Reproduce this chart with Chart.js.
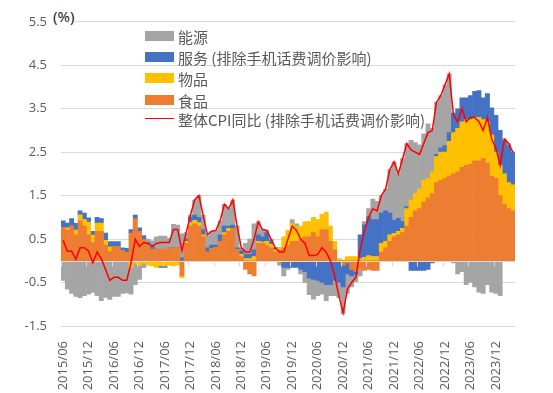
<!DOCTYPE html>
<html><head><meta charset="utf-8">
<script src="https://cdn.jsdelivr.net/npm/chart.js@4.4.1/dist/chart.umd.min.js"></script>
<style>
html,body{margin:0;padding:0;background:#fff;}
#wrap{position:relative;width:553px;height:393px;overflow:hidden;}
#c{position:absolute;left:0;top:0;}
.unit{position:absolute;left:52px;top:6px;font:15px "Noto Sans","Noto Sans CJK SC";color:#262626;background:#fff;padding:0 1px;line-height:20px;}
.lgrow{position:absolute;left:145px;height:20px;}
.lgbox{position:absolute;left:0;width:29px;height:10px;top:5px;}
.lgline{position:absolute;left:0;width:29px;height:0;top:9px;border-top:1.5px solid #FF0000;}
.lgtxt{position:absolute;left:33px;top:0;line-height:20px;font:15px "Noto Sans CJK SC";color:#595959;white-space:nowrap;}
</style></head>
<body>
<div id="wrap">
<canvas id="c" width="553" height="393"></canvas>
<div class="unit">(%)</div>
<div id="legend"></div>
</div>
<script>
// ---- categories (monthly, 2015/06 - 2024/04) ----
const categories = [
"2015/06","2015/07","2015/08","2015/09","2015/10","2015/11","2015/12",
"2016/01","2016/02","2016/03","2016/04","2016/05","2016/06","2016/07","2016/08","2016/09","2016/10","2016/11","2016/12",
"2017/01","2017/02","2017/03","2017/04","2017/05","2017/06","2017/07","2017/08","2017/09","2017/10","2017/11","2017/12",
"2018/01","2018/02","2018/03","2018/04","2018/05","2018/06","2018/07","2018/08","2018/09","2018/10","2018/11","2018/12",
"2019/01","2019/02","2019/03","2019/04","2019/05","2019/06","2019/07","2019/08","2019/09","2019/10","2019/11","2019/12",
"2020/01","2020/02","2020/03","2020/04","2020/05","2020/06","2020/07","2020/08","2020/09","2020/10","2020/11","2020/12",
"2021/01","2021/02","2021/03","2021/04","2021/05","2021/06","2021/07","2021/08","2021/09","2021/10","2021/11","2021/12",
"2022/01","2022/02","2022/03","2022/04","2022/05","2022/06","2022/07","2022/08","2022/09","2022/10","2022/11","2022/12",
"2023/01","2023/02","2023/03","2023/04","2023/05","2023/06","2023/07","2023/08","2023/09","2023/10","2023/11","2023/12",
"2024/01","2024/02","2024/03","2024/04"
];

// ---- series values (percentage-point contributions) ----
const food = [
0.76,0.70,0.80,0.60,0.92,0.80,0.60,
0.42,0.68,0.68,0.36,0.21,0.32,0.32,0.23,0.19,0.64,0.97,0.68,
0.49,0.38,0.27,0.27,0.27,0.27,0.30,0.30,0.30,-0.34,0.40,0.80,
0.85,0.80,0.55,0.20,0.28,0.30,0.45,0.60,0.68,0.75,0.25,0.10,
-0.20,-0.30,-0.35,0.40,0.40,0.35,0.30,0.20,0.25,0.30,0.35,0.45,
0.45,0.50,0.55,0.55,0.65,0.55,0.72,0.72,0.45,0.25,0.00,-0.10,
-0.05,-0.20,-0.25,-0.20,-0.22,-0.20,-0.22,-0.22,0.20,0.30,0.45,0.55,
0.60,0.65,0.80,1.00,1.15,1.20,1.35,1.45,1.55,1.80,1.85,1.89,
1.95,2.00,2.05,2.15,2.20,2.22,2.30,2.30,2.35,2.25,1.95,1.90,
1.50,1.30,1.20,1.15
];
const goods = [
0.00,0.06,0.00,0.11,0.14,0.15,0.29,
0.17,0.19,0.19,0.11,0.11,0.00,0.00,0.00,0.00,-0.15,-0.05,-0.10,
-0.05,-0.10,-0.12,-0.15,-0.12,-0.12,-0.10,-0.12,-0.10,-0.05,0.05,0.08,
0.08,0.08,0.05,0.00,0.00,0.00,0.00,0.05,0.07,0.00,0.00,0.05,
0.05,0.05,0.10,0.05,0.03,0.10,0.08,0.05,0.05,0.25,0.35,0.40,
0.35,0.30,0.35,0.35,0.35,0.40,0.35,0.40,0.35,0.20,0.05,0.02,
0.10,0.10,0.10,0.05,0.08,0.12,0.10,0.10,0.20,0.15,0.15,0.08,
0.08,0.10,0.40,0.40,0.40,0.45,0.50,0.45,0.50,0.60,0.65,0.61,
0.80,0.95,1.00,1.05,1.05,1.03,1.00,1.00,0.90,0.95,0.95,0.60,
0.70,0.70,0.60,0.60
];
const services = [
0.16,0.11,0.17,0.15,0.09,0.15,0.10,
0.09,0.13,0.10,0.17,0.12,0.12,0.12,0.07,0.10,0.08,0.08,0.08,
0.09,0.04,0.08,0.00,-0.03,-0.03,0.00,0.00,0.00,0.07,0.05,0.12,
0.12,0.12,0.12,0.10,0.08,0.06,0.15,0.15,0.05,0.07,0.05,0.08,
0.10,0.10,0.15,0.15,0.12,0.20,0.08,0.05,0.00,-0.15,-0.15,-0.15,
-0.15,-0.20,-0.25,-0.40,-0.43,-0.45,-0.50,-0.55,-0.55,-0.45,-0.50,-0.50,
-0.25,-0.15,-0.05,0.55,0.75,0.90,0.85,0.85,0.70,0.70,0.50,0.30,
0.30,0.15,0.05,-0.22,-0.22,-0.22,-0.22,-0.20,-0.05,0.05,0.10,0.15,
0.20,0.45,0.45,0.55,0.50,0.55,0.60,0.62,0.50,0.65,0.62,0.85,
0.80,0.75,0.85,0.75
];
const energy = [
-0.45,-0.65,-0.75,-0.82,-0.85,-0.80,-0.77,
-0.73,-0.80,-0.92,-0.84,-0.89,-0.82,-0.82,-0.75,-0.74,-0.62,-0.50,-0.33,
-0.11,0.08,0.11,0.28,0.30,0.30,0.22,0.54,0.52,0.55,0.15,0.05,
0.35,0.50,0.33,0.30,0.32,0.34,0.32,0.50,0.40,0.58,0.50,0.07,
0.25,0.35,0.60,0.30,0.17,0.05,0.04,0.00,-0.10,-0.20,-0.05,0.10,
0.05,-0.10,-0.25,-0.38,-0.45,-0.35,-0.27,-0.37,-0.25,-0.35,-0.35,-0.62,
-0.45,-0.25,-0.18,-0.15,0.07,0.18,0.47,0.42,0.40,0.50,1.00,1.35,
1.02,1.45,1.45,1.37,1.17,1.02,1.07,1.25,1.00,1.20,1.20,1.40,
1.35,-0.05,-0.30,-0.25,-0.55,-0.50,-0.60,-0.72,-0.75,-0.55,-0.72,-0.75,
-0.80,0.05,0.05,0.00
];
const cpiTotal = [
0.47,0.22,0.22,0.04,0.30,0.30,0.22,
-0.05,0.20,0.05,-0.20,-0.45,-0.38,-0.38,-0.45,-0.45,-0.05,0.50,0.33,
0.42,0.40,0.34,0.40,0.42,0.42,0.42,0.72,0.72,0.23,0.65,1.05,
1.40,1.50,1.05,0.60,0.68,0.70,0.92,1.30,1.20,1.40,0.80,0.30,
0.20,0.20,0.50,0.90,0.72,0.70,0.50,0.30,0.20,0.20,0.50,0.80,
0.70,0.50,0.40,0.12,0.12,0.15,0.30,0.20,0.00,-0.35,-0.80,-1.20,
-0.65,-0.50,-0.38,0.25,0.68,1.00,1.20,1.15,1.50,1.65,2.10,2.28,
2.00,2.35,2.70,2.55,2.50,2.45,2.70,2.95,3.00,3.65,3.80,4.05,
4.30,3.35,3.20,3.50,3.20,3.30,3.30,3.20,3.00,3.30,2.80,2.60,
2.20,2.80,2.70,2.50
];

// ---- axis ticks / names ----
const yTickMin = -1.5, yTickMax = 5.5, yTickStep = 1;
const labelEvery = 6;
const seriesNames = ["食品","物品","服务 (排除手机话费调价影响)","能源"];
const lineName = "整体CPI同比 (排除手机话费调价影响)";
const colors = {food:"#ED7D31", goods:"#FFC000", services:"#4472C4", energy:"#A5A5A5", line:"#FF0000"};

const zeroAxis = {
  id: 'zeroAxis',
  beforeDatasetDraw(chart, args) {
    if (args.meta.type !== 'line') return;
    const {ctx, chartArea, scales} = chart;
    const x = scales.x, y = scales.y;
    const y0 = Math.round(y.getPixelForValue(0)) + 0.5;
    const w = (chartArea.right - chartArea.left) / categories.length;
    ctx.save();
    ctx.strokeStyle = '#D9D9D9';
    ctx.lineWidth = 1;
    ctx.beginPath();
    ctx.moveTo(chartArea.left, y0);
    ctx.lineTo(chartArea.right, y0);
    for (let i = 0; i < categories.length; i += labelEvery) {
      const xx = Math.round(x.getPixelForValue(i) - w / 2) + 0.5;
      ctx.moveTo(xx, y0);
      ctx.lineTo(xx, y0 + 5);
    }
    ctx.stroke();
    ctx.restore();
  }
};

const barBase = {type:'bar', stack:'cpi', order:1, borderWidth:0, categoryPercentage:1, barPercentage:1};
new Chart(document.getElementById('c'), {
  data: {
    labels: categories,
    datasets: [
      Object.assign({label: seriesNames[0], data: food, backgroundColor: colors.food}, barBase),
      Object.assign({label: seriesNames[1], data: goods, backgroundColor: colors.goods}, barBase),
      Object.assign({label: seriesNames[2], data: services, backgroundColor: colors.services}, barBase),
      Object.assign({label: seriesNames[3], data: energy, backgroundColor: colors.energy}, barBase),
      {type:'line', label: lineName, data: cpiTotal, borderColor: colors.line, borderWidth: 1.5,
       pointRadius: 0, tension: 0, fill: false, stack: 'line', order: 0}
    ]
  },
  options: {
    responsive: false,
    animation: false,
    devicePixelRatio: 1,
    layout: {padding: {left: 0, right: 38, top: 18, bottom: 0}},
    plugins: {legend: {display: false}, tooltip: {enabled: false}},
    scales: {
      x: {
        stacked: true,
        offset: true,
        grid: {display: false},
        border: {display: false},
        ticks: {
          autoSkip: false, minRotation: 90, maxRotation: 90, padding: 7,
          color: '#595959', font: {family: 'Open Sans', size: 13},
          callback: function(v, i) { return i % labelEvery === 0 ? categories[i] : ''; }
        },
        afterFit: function(s) { s.height = 67; }
      },
      y: {
        stacked: true,
        min: yTickMin, max: yTickMax,
        ticks: {stepSize: yTickStep, color: '#595959', font: {family: 'Open Sans', size: 13}, padding: 14,
                callback: function(v) { return v.toFixed(1); }},
        grid: {color: '#D9D9D9', drawTicks: false},
        border: {display: false},
        afterFit: function(s) { s.width = 61; }
      }
    }
  },
  plugins: [zeroAxis]
});

// ---- legend (HTML, transparent) ----
const legendItems = [
  {name: seriesNames[3], color: colors.energy, cy: 36},
  {name: seriesNames[2], color: colors.services, cy: 57},
  {name: seriesNames[1], color: colors.goods, cy: 78},
  {name: seriesNames[0], color: colors.food, cy: 100},
  {name: lineName, color: colors.line, cy: 119, line: true}
];
const lg = document.getElementById('legend');
legendItems.forEach(function(it) {
  const row = document.createElement('div');
  row.className = 'lgrow';
  row.style.top = (it.cy - 10) + 'px';
  const mark = document.createElement('div');
  if (it.line) { mark.className = 'lgline'; }
  else { mark.className = 'lgbox'; mark.style.background = it.color; }
  const t = document.createElement('div');
  t.className = 'lgtxt';
  t.textContent = it.name;
  row.appendChild(mark); row.appendChild(t);
  lg.appendChild(row);
});
</script>
</body></html>
